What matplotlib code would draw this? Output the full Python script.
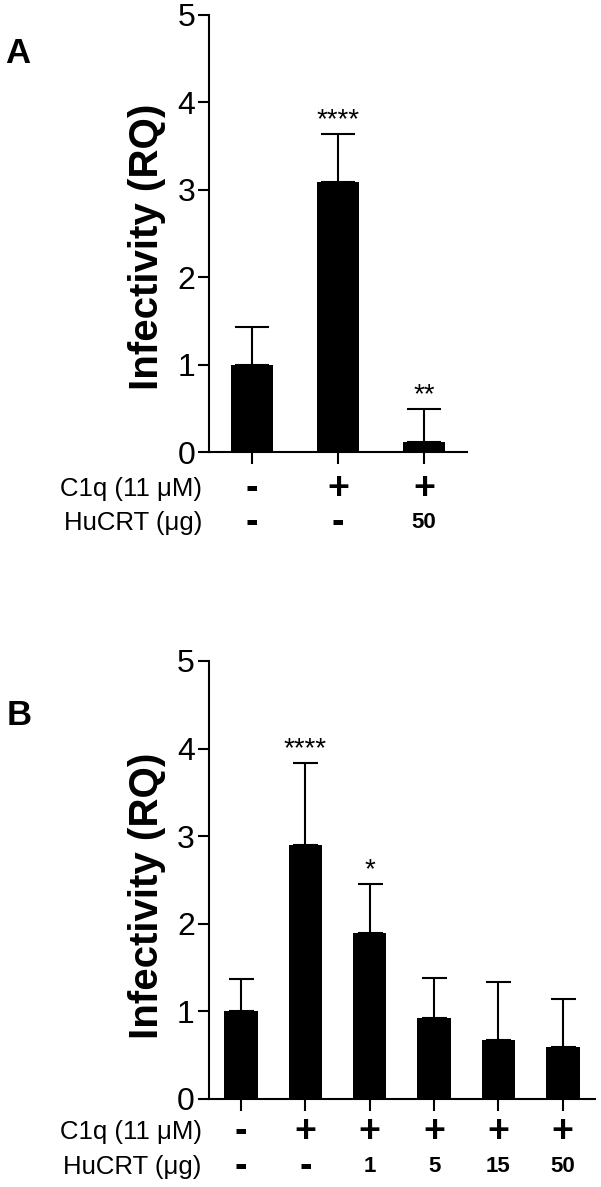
import matplotlib
matplotlib.use("Agg")
import matplotlib.pyplot as plt
import numpy as np

plt.rcParams['font.family'] = ['Liberation Sans', 'DejaVu Sans']

# panel A
a_c1q = ['-', '+', '+']
a_hucrt = ['-', '-', '50']
a_mean = [1.0, 3.09, 0.11]
a_err = [0.43, 0.55, 0.38]
a_stars = ['', '****', '**']

# panel B
b_c1q = ['-', '+', '+', '+', '+', '+']
b_hucrt = ['-', '-', '1', '5', '15', '50']
b_mean = [1.0, 2.9, 1.89, 0.93, 0.67, 0.59]
b_err = [0.37, 0.93, 0.56, 0.455, 0.67, 0.55]
b_stars = ['', '****', '*', '', '', '']

yticks = [0, 1, 2, 3, 4, 5]
row_names = ['C1q (11 \u03bcM)', 'HuCRT (\u03bcg)']

W, H = 601, 1187
fig = plt.figure(figsize=(W / 100, H / 100), dpi=100)


def panel(rect, letter, letter_xy, c1q, hucrt, mean, err, stars,
          bar_w, capsize, row_y, lab_x, lab_y):
    ax = fig.add_axes(rect)
    x = np.arange(len(mean))
    ax.bar(x, mean, width=bar_w, color='black', zorder=2)
    ax.errorbar(x, mean, yerr=[np.zeros(len(err)), err], fmt='none',
                ecolor='black', elinewidth=1.5, capsize=capsize,
                capthick=1.5, zorder=1)
    for xi, m, e, s in zip(x, mean, err, stars):
        if s:
            ax.annotate(s, (xi, m + e), xytext=(0, 5), textcoords='offset points',
                        ha='center', va='baseline', fontsize=20)

    ax.set_xlim(-0.5, len(mean) - 0.5)
    ax.set_ylim(0, 5)
    ax.set_yticks(yticks)
    ax.set_xticks(x)
    ax.set_xticklabels([])
    for sp in ['top', 'right']:
        ax.spines[sp].set_visible(False)
    for sp in ['left', 'bottom']:
        ax.spines[sp].set_linewidth(1.5)
    ax.tick_params(axis='y', length=8, width=1.5, pad=2, labelsize=23)
    ax.tick_params(axis='x', length=8.5, width=1.5)

    ax.set_ylabel('Infectivity (RQ)', fontsize=29, fontweight='bold')
    ax.yaxis.set_label_coords(lab_x, lab_y)

    tr = ax.get_xaxis_transform()
    for xi, c, h in zip(x, c1q, hucrt):
        ax.text(xi, row_y[0], c, transform=tr, ha='center', va='center',
                fontsize=27, fontweight='bold')
        fs = 27 if h == '-' else 16
        ax.text(xi, row_y[1], h, transform=tr, ha='center', va='center',
                fontsize=fs, fontweight='bold')
    for name, ry in zip(row_names, row_y):
        ax.annotate(name, (0, ry), xycoords='axes fraction', xytext=(-5, 0),
                    textcoords='offset points', ha='right', va='center',
                    fontsize=18.5)

    fig.text(letter_xy[0] / W, 1 - letter_xy[1] / H, letter, fontsize=25,
             fontweight='bold', va='baseline', ha='left')
    return ax


panel([209 / W, 1 - 452 / H, 258 / W, 437 / H], 'A', (5, 63),
      a_c1q, a_hucrt, a_mean, a_err, a_stars,
      0.49, 12, (-0.085, -0.162), -0.166, 0.469)

panel([208.7 / W, 1 - 1099 / H, 386.3 / W, 438 / H], 'B', (7, 725),
      b_c1q, b_hucrt, b_mean, b_err, b_stars,
      0.52, 9, (-0.0753, -0.155), -0.11, 0.463)

fig.savefig('out.png', dpi=100)
